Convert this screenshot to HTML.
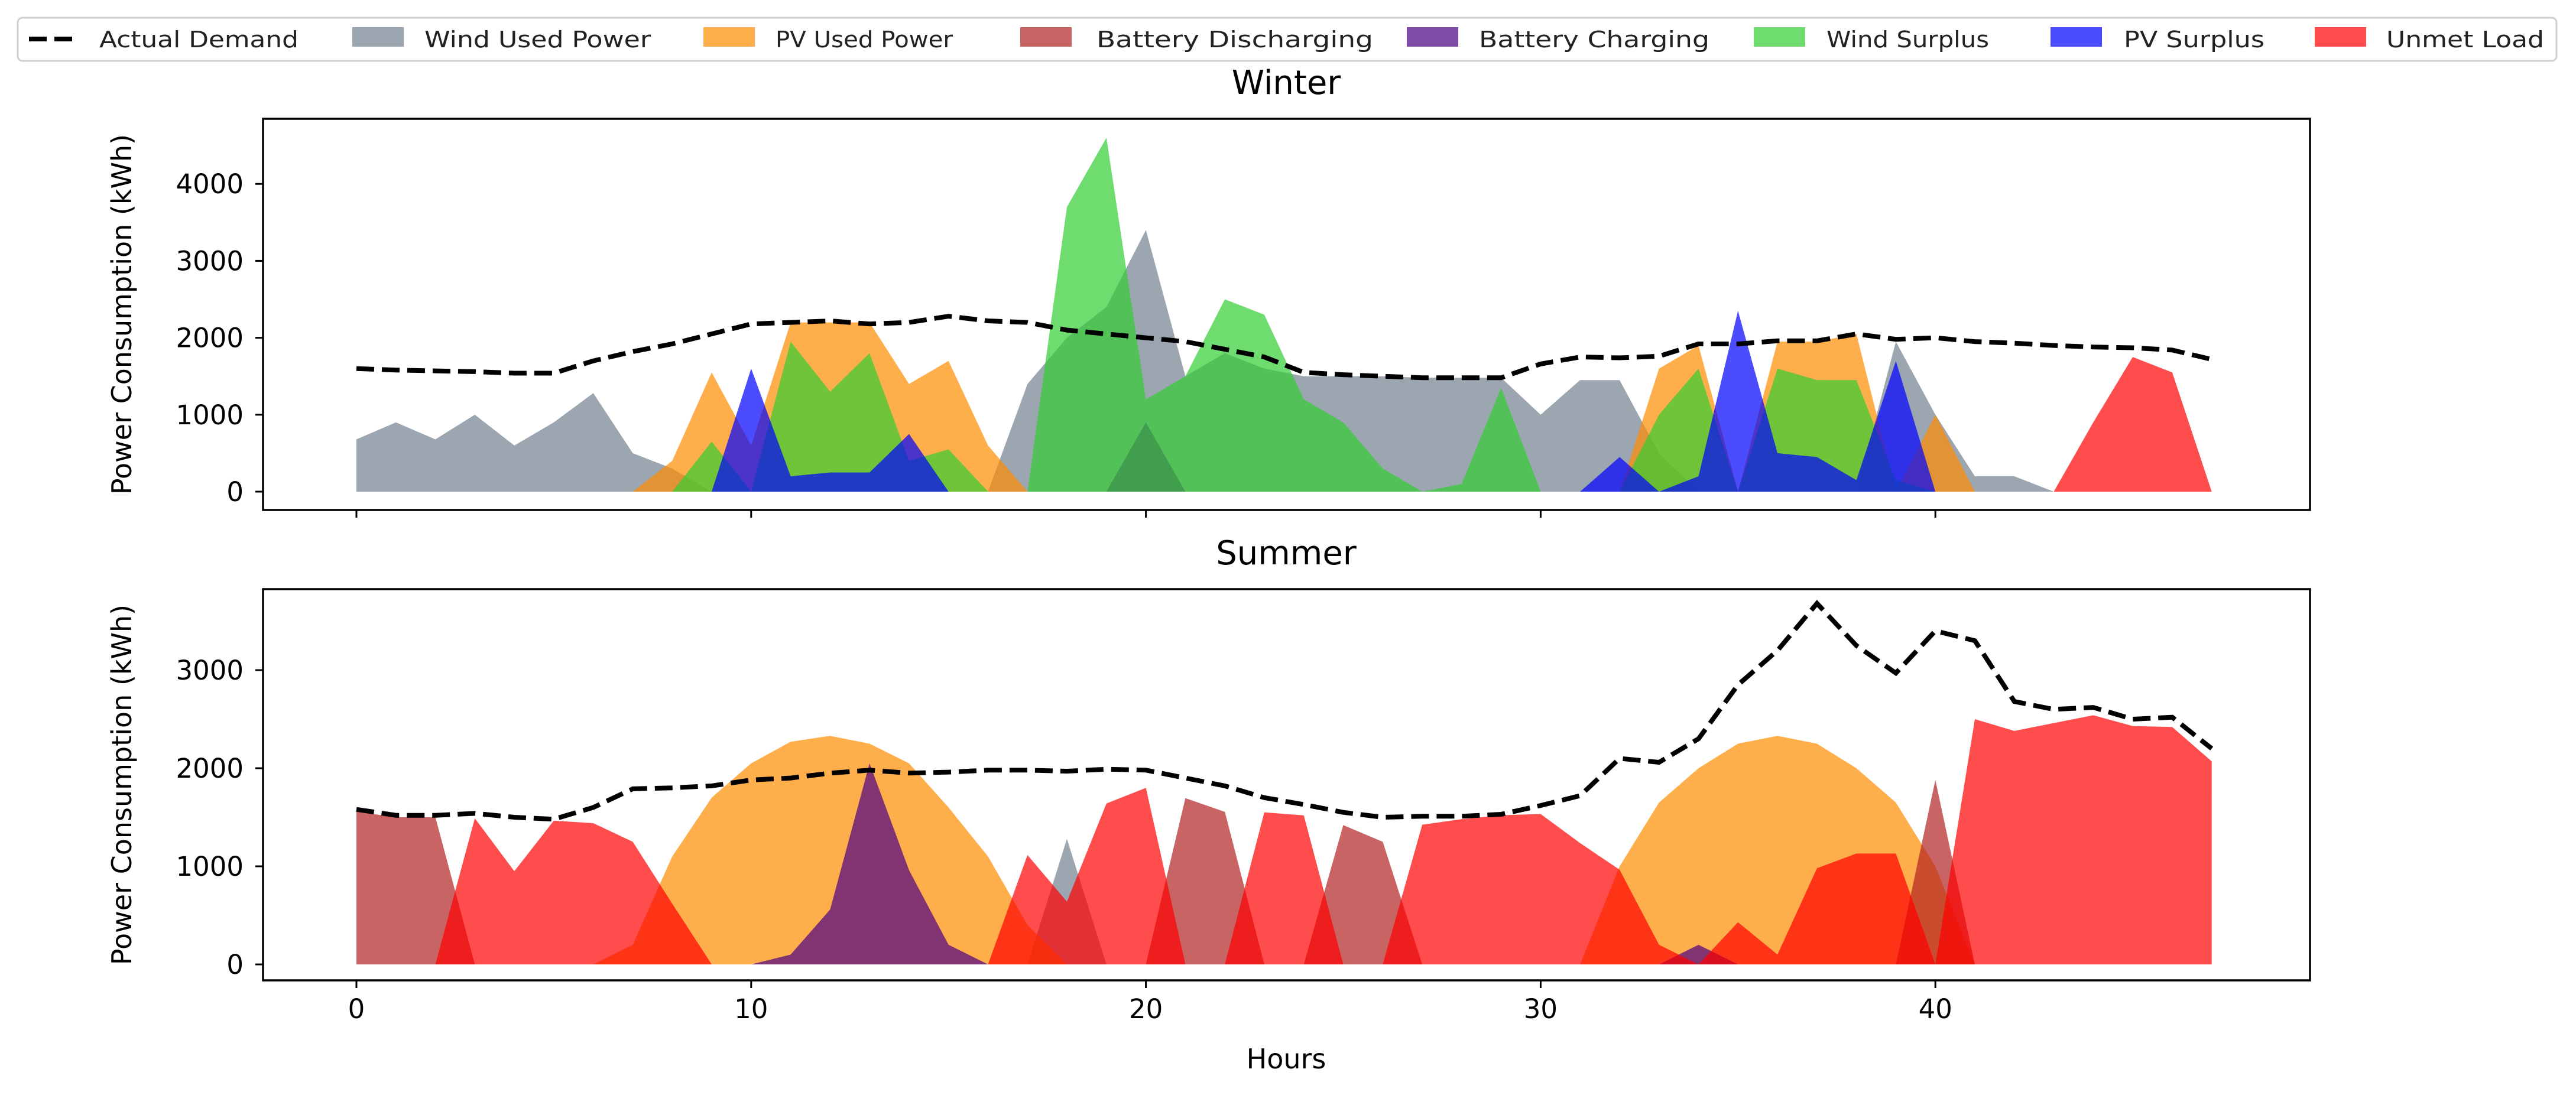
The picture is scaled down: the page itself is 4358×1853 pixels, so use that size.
<!DOCTYPE html>
<html><head><meta charset="utf-8"><style>
html,body{margin:0;padding:0;background:#fff;}
svg{display:block;font-family:"DejaVu Sans","Liberation Sans",sans-serif;}
</style></head><body>
<svg id="chart" xmlns="http://www.w3.org/2000/svg" width="4358" height="1853" viewBox="0 0 4358 1853">
<rect x="0" y="0" width="4358" height="1853" fill="#fff"/>
<g id="legend">
<rect x="30" y="30" width="4295" height="73" rx="8" fill="#fff" stroke="#d0d0d0" stroke-width="3"/>
</g>
<g id="plots"></g>
</svg>
<script>
const hours = Array.from({length:48},(_,i)=>i);
const seriesNames = ["Wind Used Power","PV Used Power","Battery Discharging","Battery Charging","Wind Surplus","PV Surplus","Unmet Load"];
const seriesColors = ["#708090","#ff8c00","#b22222","#4b0082","#32cd32","#0000ff","#ff0000"];
const winterTicks = [0,1000,2000,3000,4000];
const summerTicks = [0,1000,2000,3000];
const xTicks = [0,10,20,30,40];

const winterDemand = [1600,1580,1570,1560,1540,1540,1700,1820,1920,2050,2180,2200,2220,2180,2200,2280,2220,2200,2100,2050,2000,1950,1850,1750,1550,1520,1500,1480,1480,1480,1660,1750,1740,1760,1920,1920,1960,1960,2050,1980,2000,1950,1930,1900,1880,1870,1840,1720];
const winterWindUsed = [680,900,680,1000,600,900,1280,500,300,0,0,0,0,0,0,0,0,1400,2000,2400,3400,1500,1800,1600,1500,1500,1500,1480,1480,1480,1000,1450,1450,500,0,0,0,0,0,1950,1000,200,200,0,0,0,0,0];
const winterPvUsed = [0,0,0,0,0,0,0,0,400,1550,600,2200,2200,2200,1400,1700,600,0,0,0,0,0,0,0,0,0,0,0,0,0,0,0,0,1600,1900,0,1950,1950,2050,0,1000,0,0,0,0,0,0,0];
const winterBattDis = new Array(48).fill(0);
const winterBattCh = [0,0,0,0,0,0,0,0,0,0,0,0,0,0,0,0,0,0,0,0,900,0,0,0,0,0,0,0,0,0,0,0,0,0,0,0,0,0,0,0,0,0,0,0,0,0,0,0];
const winterWindSur = [0,0,0,0,0,0,0,0,0,650,0,1950,1300,1800,400,550,0,0,3700,4600,1200,1500,2500,2300,1200,900,300,0,100,1350,0,0,0,1000,1600,0,1600,1450,1450,150,0,0,0,0,0,0,0,0];
const winterPvSur = [0,0,0,0,0,0,0,0,0,0,1600,200,250,250,750,0,0,0,0,0,0,0,0,0,0,0,0,0,0,0,0,0,450,0,200,2350,500,450,150,1700,0,0,0,0,0,0,0,0];
const winterUnmet = [0,0,0,0,0,0,0,0,0,0,0,0,0,0,0,0,0,0,0,0,0,0,0,0,0,0,0,0,0,0,0,0,0,0,0,0,0,0,0,0,0,0,0,0,900,1750,1550,0];

const summerDemand = [1580,1520,1520,1540,1500,1480,1600,1790,1800,1820,1880,1900,1950,1980,1950,1960,1980,1980,1970,1990,1980,1900,1820,1700,1630,1550,1500,1510,1510,1530,1620,1720,2100,2060,2300,2850,3200,3680,3250,2970,3400,3300,2680,2600,2620,2500,2520,2200];
const summerWindUsed = [0,0,0,0,0,0,0,0,0,0,0,0,0,0,0,0,0,0,1280,0,0,0,0,0,0,0,0,0,0,0,0,0,0,0,0,0,0,0,0,0,0,0,0,0,0,0,0,0];
const summerPvUsed = [0,0,0,0,0,0,0,200,1100,1700,2050,2270,2330,2250,2050,1600,1100,400,0,0,0,0,0,0,0,0,0,0,0,0,0,0,1000,1650,2000,2250,2330,2250,2000,1650,1000,0,0,0,0,0,0,0];
const summerBattDis = [1557,1500,1500,0,0,0,0,0,0,0,0,0,0,0,0,0,0,0,0,0,0,1695,1555,0,0,1420,1250,0,0,0,0,0,0,0,0,0,0,0,0,0,1880,0,0,0,0,0,0,0];
const summerBattCh = [0,0,0,0,0,0,0,0,0,0,0,100,560,2050,960,200,0,0,0,0,0,0,0,0,0,0,0,0,0,0,0,0,0,0,200,0,0,0,0,0,0,0,0,0,0,0,0,0];
const summerWindSur = new Array(48).fill(0);
const summerPvSur = new Array(48).fill(0);
const summerUnmet = [0,0,0,1490,950,1465,1440,1250,620,0,0,0,0,0,0,0,0,1115,640,1640,1800,0,0,1550,1520,0,0,1424,1480,1520,1533,1237,965,200,0,430,100,980,1130,1130,0,2500,2380,2460,2540,2430,2420,2070];

const NS="http://www.w3.org/2000/svg";
const svg=document.getElementById('chart');
const plots=document.getElementById('plots');
const legend=document.getElementById('legend');
function mk(tag,attrs,parent){const e=document.createElementNS(NS,tag);for(const k in attrs)e.setAttribute(k,attrs[k]);(parent||plots).appendChild(e);return e;}

const X0=603, XPH=66.78;
function xs(h){return X0+h*XPH;}

function drawPanel(cfg){
  const g=mk('g',{});
  
  
  const ys=v=>cfg.y0-v*cfg.ppu;
  const series=[cfg.windUsed,cfg.pvUsed,cfg.battDis,cfg.battCh,cfg.windSur,cfg.pvSur,cfg.unmet];
  series.forEach((arr,si)=>{
    let d='M'+xs(0)+','+ys(0);
    arr.forEach((v,i)=>{d+=' L'+xs(hours[i]).toFixed(1)+','+ys(v).toFixed(1);});
    d+=' L'+xs(hours[arr.length-1])+','+ys(0)+' Z';
    const p=mk('path',{d:d,fill:seriesColors[si],'fill-opacity':0.7,stroke:'none'},g);
    
    
  });
  let d='';
  cfg.demand.forEach((v,i)=>{d+=(i?' L':'M')+xs(hours[i]).toFixed(1)+','+ys(v).toFixed(1);});
  const ln=mk('path',{d:d,fill:'none',stroke:'#000','stroke-width':8,'stroke-dasharray':'30,13'},g);
  
  
  const fr=mk('rect',{x:445,y:cfg.top,width:3463,height:cfg.bot-cfg.top,fill:'none',stroke:'#000','stroke-width':3.5},g);
  
  
  cfg.ticks.forEach(t=>{
    const y=ys(t);
    const tk=mk('line',{x1:445,x2:432,y1:y,y2:y,stroke:'#000','stroke-width':3},g);
    
    
    const tl=mk('text',{x:412,y:y+16,'text-anchor':'end','font-size':45,fill:'#000'},g);
    tl.textContent=String(t);
    
    
  });
  xTicks.forEach(t=>{
    const x=xs(t);
    const tk=mk('line',{x1:x,x2:x,y1:cfg.bot,y2:cfg.bot+13,stroke:'#000','stroke-width':3},g);
    
    
    if(cfg.xlabels){
      const tl=mk('text',{x:x,y:cfg.bot+64,'text-anchor':'middle','font-size':45,fill:'#000'},g);
      tl.textContent=String(t);
      
      
    }
  });
  const tt=mk('text',{x:2176,y:cfg.top-42,'text-anchor':'middle','font-size':56,fill:'#000'},g);
  tt.textContent=cfg.title;
  
  
  const cy=(cfg.top+cfg.bot)/2;
  const yl=mk('text',{x:0,y:0,'text-anchor':'middle','font-size':46,fill:'#000',transform:'translate(222,'+cy+') rotate(-90)'},g);
  yl.textContent='Power Consumption (kWh)';
  
  
}

drawPanel({name:'winter',title:'Winter',top:201,bot:863,y0:832,ppu:0.1302,ticks:winterTicks,xlabels:false,
  demand:winterDemand,windUsed:winterWindUsed,pvUsed:winterPvUsed,battDis:winterBattDis,battCh:winterBattCh,windSur:winterWindSur,pvSur:winterPvSur,unmet:winterUnmet});
drawPanel({name:'summer',title:'Summer',top:997,bot:1659,y0:1632,ppu:0.166,ticks:summerTicks,xlabels:true,
  demand:summerDemand,windUsed:summerWindUsed,pvUsed:summerPvUsed,battDis:summerBattDis,battCh:summerBattCh,windSur:summerWindSur,pvSur:summerPvSur,unmet:summerUnmet});

const xt=mk('text',{x:2176,y:1808,'text-anchor':'middle','font-size':46,fill:'#000'});
xt.textContent='Hours';



const legPatchX=[596,1190,1726,2380,2967,3469,3916];
const legTextX=[718,1312,1855,2502,3090,3593,4037];
const legTextW=[383,300,468,390,275,238,267];
const dl=mk('line',{x1:49,x2:122,y1:66,y2:66,stroke:'#000','stroke-width':8,'stroke-dasharray':'30,13'},legend);


const dt=mk('text',{x:168,y:80,'font-size':38,fill:'#222',textLength:337,lengthAdjust:'spacingAndGlyphs'},legend);
dt.textContent='Actual Demand';


seriesNames.forEach((n,i)=>{
  const r=mk('rect',{x:legPatchX[i],y:46,width:87,height:33,fill:seriesColors[i],'fill-opacity':0.7},legend);
  
  
  const t=mk('text',{x:legTextX[i],y:80,'font-size':38,fill:'#222',textLength:legTextW[i],lengthAdjust:'spacingAndGlyphs'},legend);
  t.textContent=n;
  
  
});
</script>
</body></html>
